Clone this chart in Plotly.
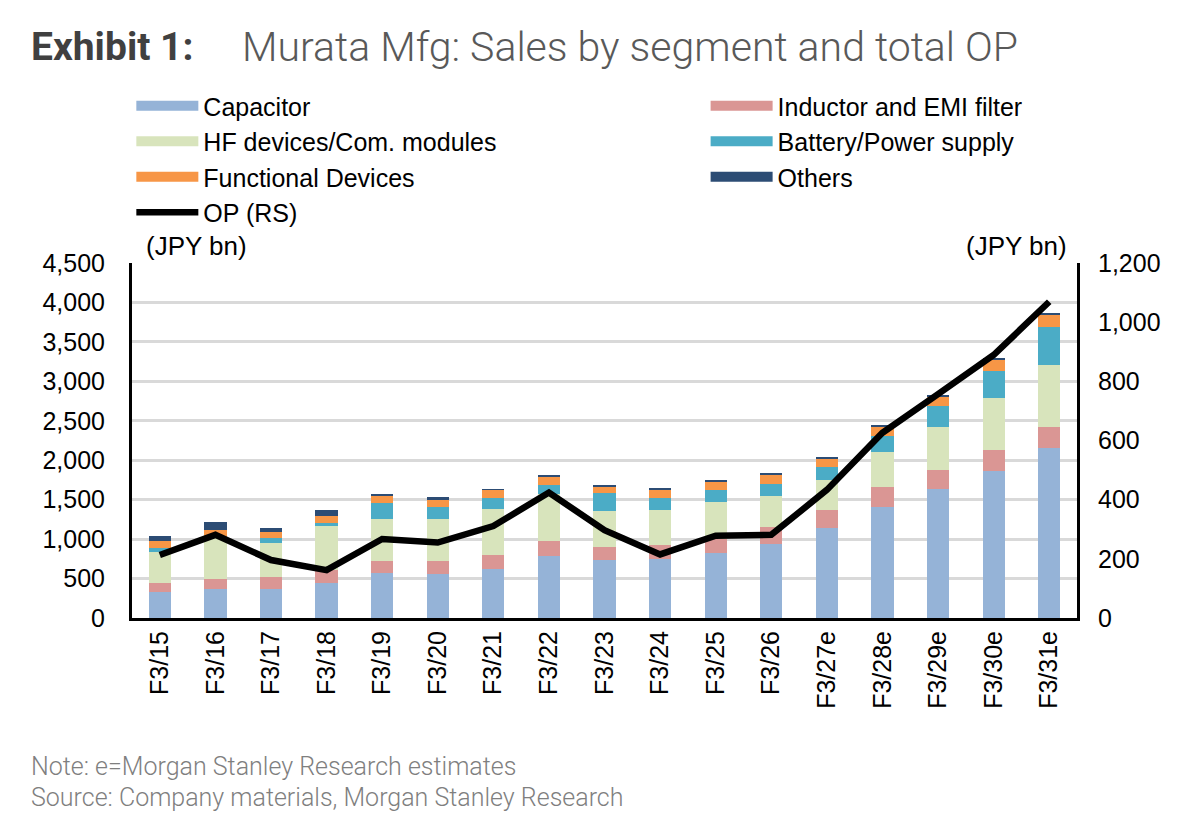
import plotly.graph_objects as go

categories = ["F3/15", "F3/16", "F3/17", "F3/18", "F3/19", "F3/20", "F3/21", "F3/22", "F3/23",
              "F3/24", "F3/25", "F3/26", "F3/27e", "F3/28e", "F3/29e", "F3/30e", "F3/31e"]
capacitor = [333, 364, 367, 448, 567, 554, 621, 790, 739, 748, 828, 938, 1145, 1411, 1632, 1868, 2159]
inductor = [107, 134, 149, 161, 160, 173, 178, 190, 165, 174, 178, 212, 228, 246, 245, 262, 267]
hf_devices = [401, 525, 439, 558, 532, 524, 579, 592, 457, 451, 469, 397, 377, 452, 545, 656, 782]
battery = [51, 10, 55, 42, 203, 160, 148, 114, 220, 153, 148, 156, 161, 203, 266, 350, 486]
functional = [84, 80, 80, 84, 89, 85, 97, 106, 84, 106, 105, 110, 114, 114, 118, 135, 148]
others = [60, 102, 47, 73, 21, 34, 5, 21, 21, 8, 18, 17, 17, 17, 21, 17, 17]
op = [213, 281, 196, 162, 267, 255, 311, 424, 297, 215, 278, 281, 433, 626, 757, 889, 1069]

left_ticks = [0, 500, 1000, 1500, 2000, 2500, 3000, 3500, 4000, 4500]
right_ticks = [0, 200, 400, 600, 800, 1000, 1200]

series = [
    ("Capacitor", capacitor, "#95B3D7", "legend"),
    ("Inductor and EMI filter", inductor, "#DA9694", "legend2"),
    ("HF devices/Com. modules", hf_devices, "#D8E4BC", "legend"),
    ("Battery/Power supply", battery, "#4BACC6", "legend2"),
    ("Functional Devices", functional, "#F79646", "legend"),
    ("Others", others, "#2C4C74", "legend2"),
]

ARIAL = "Liberation Sans, Arial"

fig = go.Figure()
for name, vals, color, lg in series:
    fig.add_trace(go.Bar(x=categories, y=vals, name=name, marker=dict(color=color, line=dict(width=0)),
                         showlegend=False, yaxis="y"))

fig.add_trace(go.Scatter(x=categories, y=op, name="OP (RS)", mode="lines",
                         line=dict(color="black", width=6.5), yaxis="y2", showlegend=False))

# legend entries
for name, vals, color, lg in series:
    fig.add_trace(go.Scatter(x=[None], y=[None], name=name, mode="lines",
                             line=dict(color=color, width=14), legend=lg, legendgroup=name,
                             showlegend=True, yaxis="y"))
fig.add_trace(go.Scatter(x=[None], y=[None], name="OP (RS)", mode="lines",
                         line=dict(color="black", width=6.5), legend="legend", legendgroup="op",
                         showlegend=True, yaxis="y"))

legend_common = dict(orientation="v", font=dict(family=ARIAL, size=25, color="black"),
                     bgcolor="rgba(0,0,0,0)", itemwidth=62, traceorder="grouped", tracegroupgap=0,
                     xanchor="left", yanchor="top", borderwidth=0)

fig.update_layout(
    template="none",
    width=1180, height=806,
    margin=dict(l=124, r=111, t=255, b=196, autoexpand=False),
    paper_bgcolor="white", plot_bgcolor="white",
    barmode="stack", bargap=0.6,
    font=dict(family=ARIAL, size=25, color="black"),
    legend=dict(x=-0.0007, y=1.507, **legend_common),
    legend2=dict(x=0.607, y=1.507, **legend_common),
    xaxis=dict(showline=True, linecolor="black", linewidth=3, tickangle=-90, ticks="",
               tickfont=dict(size=25), showgrid=False, automargin=False),
    yaxis=dict(range=[0, 4500], tickvals=left_ticks, ticktext=[f"{v:,}" for v in left_ticks],
               showline=True, linecolor="black", linewidth=3, showgrid=True, gridcolor="#D9D9D9",
               gridwidth=2.5, ticks="", zeroline=False, tickfont=dict(size=25), automargin=False,
               ticklabelstandoff=19),
    yaxis2=dict(range=[0, 1200], tickvals=right_ticks, ticktext=[f"{v:,}" for v in right_ticks],
                overlaying="y", side="right", showline=True, linecolor="black", linewidth=3,
                showgrid=False, ticks="", zeroline=False, tickfont=dict(size=25), automargin=False,
                ticklabelstandoff=13),
)

fig.add_annotation(text="<b>Exhibit 1:</b>", xref="paper", yref="paper", x=-0.109, y=1.608,
                   xanchor="left", yanchor="middle", showarrow=False,
                   font=dict(family="Roboto", size=39, color="#404040"))
fig.add_annotation(text="Murata Mfg: Sales by segment and total OP", xref="paper", yref="paper",
                   x=0.1139, y=1.608, xanchor="left", yanchor="middle", showarrow=False,
                   font=dict(family="Roboto", size=41, color="#595959", weight=300))
fig.add_annotation(text="(JPY bn)", xref="paper", yref="paper", x=0.013, y=1.0, xanchor="left",
                   yanchor="bottom", showarrow=False, font=dict(size=26, color="black"))
fig.add_annotation(text="(JPY bn)", xref="paper", yref="paper", x=0.992, y=1.0, xanchor="right",
                   yanchor="bottom", showarrow=False, font=dict(size=26, color="black"))
fig.add_annotation(text="Note: e=Morgan Stanley Research estimates", xref="paper", yref="paper",
                   x=-0.109, y=-0.417, xanchor="left", yanchor="middle", showarrow=False,
                   font=dict(family="Roboto", size=25, color="#7F7F7F", weight=300))
fig.add_annotation(text="Source: Company materials, Morgan Stanley Research", xref="paper", yref="paper",
                   x=-0.109, y=-0.507, xanchor="left", yanchor="middle", showarrow=False,
                   font=dict(family="Roboto", size=25, color="#7F7F7F", weight=300))

fig.write_html("out.html")
